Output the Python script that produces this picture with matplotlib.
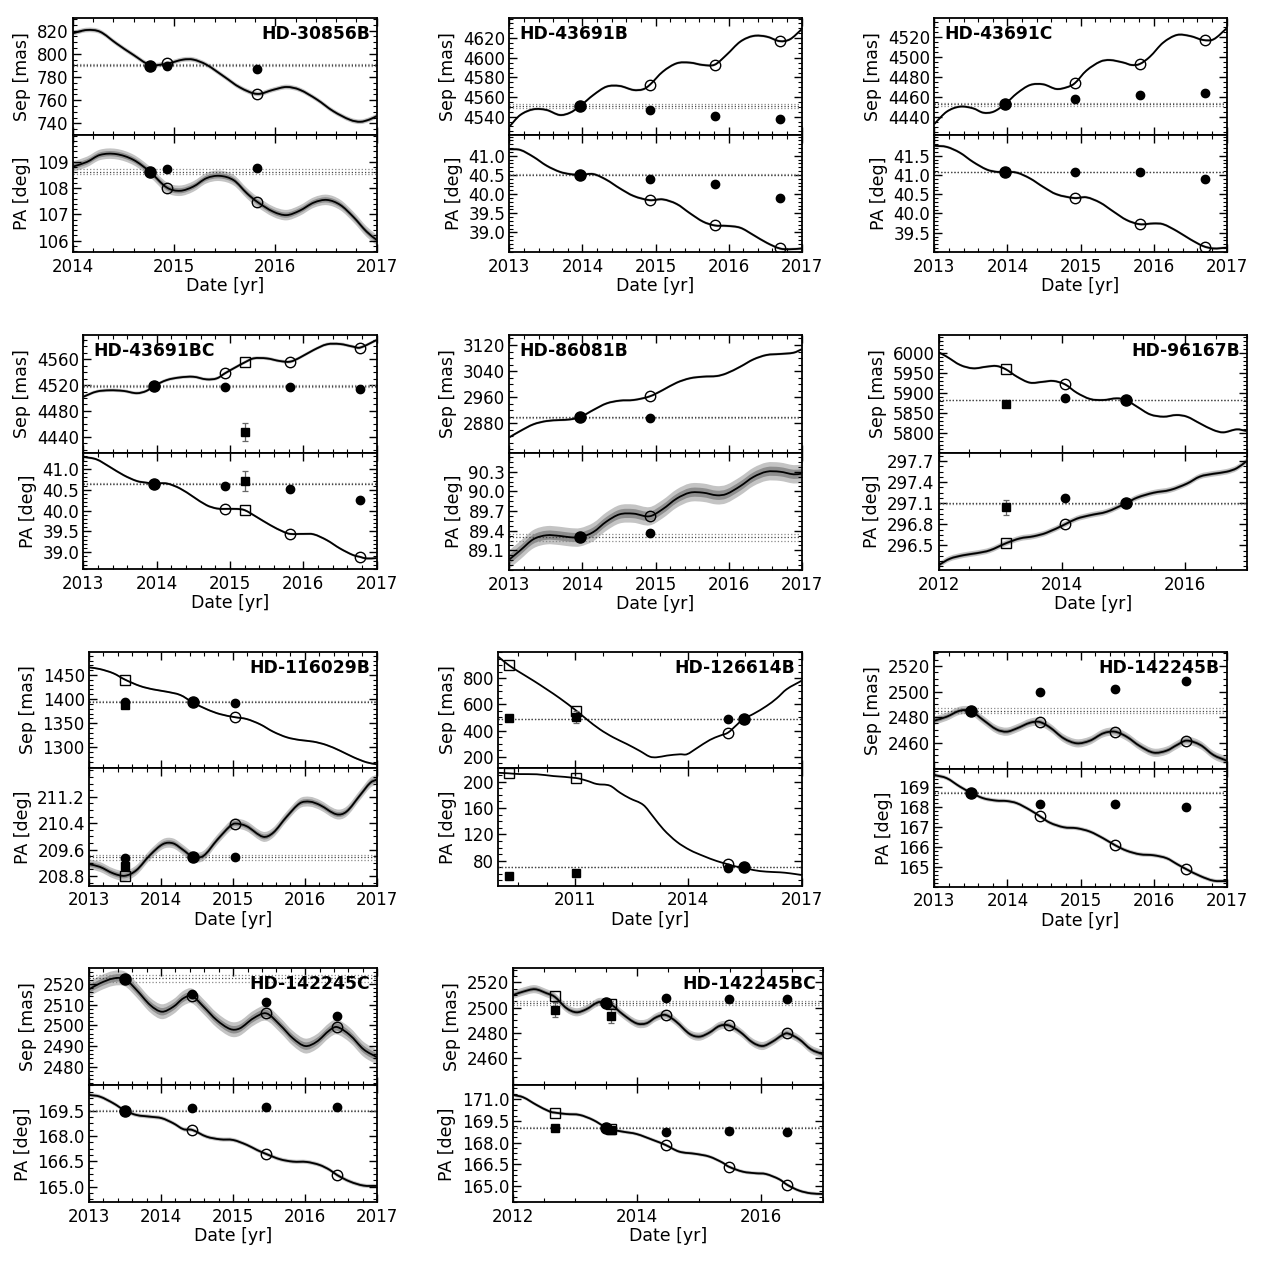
import matplotlib
matplotlib.use("Agg")
import matplotlib.pyplot as plt
from matplotlib.ticker import AutoMinorLocator, FixedLocator, FormatStrFormatter
from matplotlib.path import Path
from matplotlib.patches import PathPatch
import numpy as np

# ---------------- data ----------------
names = ["HD-30856B", "HD-43691B", "HD-43691C", "HD-43691BC", "HD-86081B", "HD-96167B",
         "HD-116029B", "HD-126614B", "HD-142245B", "HD-142245C", "HD-142245BC"]

# HD-30856B
p1_ts = [2014.0, 2014.14, 2014.27, 2014.43, 2014.6, 2014.76, 2014.93, 2015.09, 2015.19, 2015.32, 2015.49,
         2015.65, 2015.82, 2015.98, 2016.11, 2016.24, 2016.41, 2016.57, 2016.74, 2016.84, 2016.93, 2017.0]
p1_sep = [817.7, 820.5, 819, 809, 799, 790.6, 791.5, 795, 795, 790.6, 780.6,
          771, 765.4, 769, 771.4, 769, 760.6, 750.6, 743, 741.4, 743.4, 746.3]
p1_tp = [2014.0, 2014.14, 2014.27, 2014.43, 2014.6, 2014.76, 2014.93, 2015.06, 2015.19, 2015.32, 2015.45, 2015.59,
         2015.72, 2015.82, 2015.98, 2016.11, 2016.24, 2016.38, 2016.51, 2016.64, 2016.77, 2016.9, 2017.0]
p1_pa = [108.82, 109.0, 109.27, 109.3, 109.08, 108.63, 108.02, 107.9, 108.06, 108.38, 108.47, 108.3,
         107.8, 107.48, 107.1, 106.97, 107.14, 107.45, 107.55, 107.36, 106.9, 106.34, 106.02]
p1_ref = [2014.76, 789.5, 108.6]
p1_meas_t = [2014.93, 2015.82]
p1_meas_sep = [789.1, 786.6]
p1_meas_pa = [108.73, 108.76]
p1_pred_t = [2014.93, 2015.82]
p1_pred_sep = [792.3, 765.4]
p1_pred_pa = [108.02, 107.48]

# HD-43691B
p2_ts = [2013.0, 2013.15, 2013.33, 2013.51, 2013.69, 2013.83, 2013.97, 2014.15, 2014.33, 2014.51, 2014.7, 2014.83,
         2014.92, 2015.1, 2015.29, 2015.47, 2015.65, 2015.81, 2015.97, 2016.16, 2016.34, 2016.52, 2016.7, 2016.84, 2017.0]
p2_sep = [4529.8, 4541.7, 4547.5, 4546.8, 4541.7, 4544, 4550.9, 4562.1, 4570.6, 4571.3, 4567.2, 4567.9,
          4572.3, 4585.9, 4594.4, 4595.1, 4592.7, 4593.0, 4602.9, 4616.5, 4622.3, 4621.6, 4617.0, 4618.9, 4629.1]
p2_tp = [2013.0, 2013.15, 2013.33, 2013.51, 2013.69, 2013.83, 2013.97, 2014.15, 2014.33, 2014.51, 2014.7, 2014.92,
         2015.1, 2015.29, 2015.47, 2015.65, 2015.81, 2015.97, 2016.16, 2016.34, 2016.52, 2016.7, 2016.84, 2017.0]
p2_pa = [41.17, 41.15, 40.97, 40.74, 40.58, 40.52, 40.5, 40.52, 40.37, 40.15, 39.95, 39.84,
         39.86, 39.74, 39.5, 39.28, 39.18, 39.17, 39.12, 38.93, 38.73, 38.58, 38.56, 38.58]
p2_ref = [2013.97, 4550.5, 40.5]
p2_meas_t = [2014.92, 2015.81, 2016.7]
p2_meas_sep = [4546.8, 4540.7, 4537.3]
p2_meas_pa = [40.39, 40.26, 39.9]
p2_pred_t = [2014.92, 2015.81, 2016.7]
p2_pred_sep = [4572.3, 4593.0, 4617.0]
p2_pred_pa = [39.84, 39.18, 38.58]

# HD-43691C
p3_ts = [2013.0, 2013.17, 2013.35, 2013.53, 2013.67, 2013.81, 2013.97, 2014.13, 2014.31, 2014.49, 2014.67, 2014.81,
         2014.92, 2015.08, 2015.27, 2015.4, 2015.59, 2015.7, 2015.81, 2015.95, 2016.13, 2016.32, 2016.5, 2016.68,
         2016.82, 2017.0]
p3_sep = [4432.6, 4445, 4450.1, 4448.4, 4444, 4445, 4452.8, 4463.5, 4471.9, 4472.6, 4467.9, 4469.6,
          4473.6, 4486.4, 4495.5, 4497.1, 4494.5, 4492.1, 4493.1, 4500.5, 4514.6, 4522.4, 4521.3, 4517.3,
          4518, 4529.1]
p3_tp = [2013.0, 2013.17, 2013.35, 2013.53, 2013.72, 2013.86, 2013.97, 2014.13, 2014.31, 2014.49, 2014.67, 2014.92,
         2015.08, 2015.27, 2015.45, 2015.63, 2015.81, 2016.0, 2016.13, 2016.32, 2016.5, 2016.68, 2016.82, 2017.0]
p3_pa = [41.76, 41.73, 41.58, 41.34, 41.14, 41.08, 41.08, 41.06, 40.91, 40.69, 40.5, 40.4,
         40.42, 40.28, 40.05, 39.83, 39.72, 39.74, 39.72, 39.54, 39.33, 39.15, 39.09, 39.11]
p3_ref = [2013.97, 4452.8, 41.07]
p3_meas_t = [2014.92, 2015.81, 2016.7]
p3_meas_sep = [4457.5, 4462.2, 4463.5]
p3_meas_pa = [41.07, 41.08, 40.89]
p3_pred_t = [2014.92, 2015.81, 2016.7]
p3_pred_sep = [4473.6, 4493.1, 4517.3]
p3_pred_pa = [40.4, 39.72, 39.14]

# HD-43691BC
p4_ts = [2013.0, 2013.18, 2013.36, 2013.55, 2013.73, 2013.86, 2013.96, 2014.14, 2014.32, 2014.5, 2014.68, 2014.82,
         2014.93, 2015.09, 2015.2, 2015.32, 2015.5, 2015.68, 2015.82, 2015.95, 2016.14, 2016.32, 2016.5, 2016.68,
         2016.77, 2017.0]
p4_sep = [4502, 4510, 4512, 4511, 4507.5, 4511, 4518.6, 4528, 4532, 4533, 4529, 4530.5,
          4538.3, 4548.6, 4555.3, 4561.5, 4561.5, 4557.4, 4556.4, 4562.6, 4574.5, 4583.3, 4583.8, 4579.7,
          4578.1, 4590]
p4_tp = [2013.0, 2013.18, 2013.36, 2013.55, 2013.73, 2013.86, 2013.96, 2014.14, 2014.32, 2014.5, 2014.68, 2014.82,
         2014.93, 2015.09, 2015.2, 2015.36, 2015.55, 2015.73, 2015.82, 2016.0, 2016.14, 2016.32, 2016.5, 2016.68,
         2016.77, 2016.86, 2017.0]
p4_pa = [41.29, 41.23, 41.05, 40.85, 40.71, 40.67, 40.65, 40.65, 40.53, 40.33, 40.13, 40.05,
         40.04, 40.04, 40.01, 39.85, 39.65, 39.49, 39.44, 39.44, 39.43, 39.29, 39.09, 38.93,
         38.89, 38.85, 38.86]
p4_ref = [2013.96, 4518.6, 40.65]
p4_meas_t = [2014.93, 2015.82, 2016.77]
p4_meas_sep = [4517.6, 4516.5, 4514.5]
p4_meas_pa = [40.6, 40.52, 40.25]
p4_pred_t = [2014.93, 2015.82, 2016.77]
p4_pred_sep = [4538.3, 4556.4, 4578.1]
p4_pred_pa = [40.04, 39.44, 38.89]
p4_arch_t = [2015.2]
p4_arch_sep = [4447.7]
p4_arch_sep_err = [14]
p4_arch_pa = [40.71]
p4_arch_pa_err = [0.23]
p4_archp_sep = [4555.3]
p4_archp_pa = [40.01]

# HD-86081B
p5_t = [2013.0, 2013.15, 2013.33, 2013.51, 2013.69, 2013.83, 2013.97, 2014.15, 2014.33, 2014.51, 2014.7, 2014.92,
        2015.1, 2015.29, 2015.47, 2015.65, 2015.84, 2015.97, 2016.16, 2016.34, 2016.52, 2016.7, 2016.89, 2017.0]
p5_sep = [2837, 2856.5, 2877, 2887, 2890, 2892, 2899, 2921, 2941, 2949.5, 2951.5, 2962.5,
          2982, 3004.6, 3018, 3023, 3025, 3033, 3053.6, 3076, 3089.4, 3092.5, 3096.5, 3106.8]
p5_pa = [88.96, 89.1, 89.27, 89.33, 89.32, 89.3, 89.3, 89.38, 89.54, 89.65, 89.66, 89.62,
         89.73, 89.89, 89.98, 89.98, 89.94, 89.96, 90.08, 90.22, 90.3, 90.3, 90.26, 90.27]
p5_ref = [2013.97, 2898.5, 89.3]
p5_meas_t = [2014.92]
p5_meas_sep = [2895.3]
p5_meas_pa = [89.36]
p5_pred_t = [2014.92]
p5_pred_sep = [2962.5]
p5_pred_pa = [89.62]

# HD-96167B
p6_ts = [2012.0, 2012.13, 2012.35, 2012.56, 2012.78, 2012.94, 2013.09, 2013.27, 2013.48, 2013.7, 2013.86, 2014.05,
         2014.24, 2014.46, 2014.67, 2014.89, 2015.04, 2015.22, 2015.43, 2015.65, 2015.86, 2016.03, 2016.24, 2016.46,
         2016.62, 2016.84, 2017.0]
p6_sep = [6002.5, 5991.7, 5970.8, 5962.5, 5966.7, 5968.3, 5960, 5941.7, 5926.7, 5929, 5931, 5922.5,
          5901.7, 5885.8, 5883.3, 5887.5, 5883.3, 5866.7, 5847.5, 5841.7, 5845.8, 5841.7, 5825, 5808.3,
          5802.5, 5810, 5805.8]
p6_tp = [2012.0, 2012.18, 2012.4, 2012.62, 2012.83, 2013.09, 2013.32, 2013.54, 2013.75, 2014.05, 2014.24, 2014.46,
         2014.73, 2015.04, 2015.22, 2015.49, 2015.76, 2016.03, 2016.24, 2016.46, 2016.68, 2016.84, 2017.0]
p6_pa = [296.22, 296.31, 296.36, 296.39, 296.43, 296.53, 296.6, 296.63, 296.68, 296.8, 296.88, 296.93,
         296.98, 297.1, 297.18, 297.25, 297.29, 297.38, 297.48, 297.52, 297.55, 297.6, 297.7]
p6_ref = [2015.04, 5883.3, 297.1]
p6_meas_t = [2014.05]
p6_meas_sep = [5889]
p6_meas_pa = [297.17]
p6_pred_t = [2014.05]
p6_pred_sep = [5922.5]
p6_pred_pa = [296.8]
p6_arch_t = [2013.09]
p6_arch_sep = [5872.5]
p6_arch_sep_err = [3]
p6_arch_pa = [297.04]
p6_arch_pa_err = [0.11]
p6_archp_sep = [5960]
p6_archp_pa = [296.53]

# HD-116029B
p7_ts = [2013.0, 2013.15, 2013.34, 2013.5, 2013.71, 2013.89, 2014.08, 2014.27, 2014.44, 2014.64, 2014.82, 2015.03,
         2015.19, 2015.38, 2015.56, 2015.75, 2015.93, 2016.12, 2016.3, 2016.49, 2016.68, 2016.86, 2017.0]
p7_sep = [1465.9, 1462.4, 1453.5, 1440.5, 1427.2, 1420.3, 1415.4, 1408.5, 1393.5, 1378.8, 1369, 1362.5,
          1358.8, 1347.7, 1332.5, 1320.8, 1315.2, 1311.8, 1304.9, 1293, 1279.3, 1268.9, 1264.8]
p7_tp = [2013.0, 2013.15, 2013.34, 2013.5, 2013.66, 2013.85, 2014.03, 2014.17, 2014.31, 2014.44, 2014.59, 2014.78,
         2014.96, 2015.03, 2015.19, 2015.42, 2015.56, 2015.75, 2015.93, 2016.07, 2016.21, 2016.44, 2016.58, 2016.77,
         2016.91, 2017.0]
p7_pa = [209.16, 209.08, 208.88, 208.81, 208.98, 209.44, 209.77, 209.79, 209.59, 209.39, 209.41, 209.89,
         210.31, 210.39, 210.31, 209.99, 210.11, 210.6, 211.0, 211.05, 210.95, 210.67, 210.75, 211.25,
         211.62, 211.72]
p7_ref = [2014.44, 1393.3, 209.39]
p7_meas_t = [2013.5, 2015.03]
p7_meas_sep = [1393.3, 1392.6]
p7_meas_pa = [209.34, 209.37]
p7_pred_t = [2015.03]
p7_pred_sep = [1362.5]
p7_pred_pa = [210.39]
p7_arch_t = [2013.5]
p7_arch_sep = [1387.8]
p7_arch_sep_err = [0]
p7_arch_pa = [209.1]
p7_arch_pa_err = [0]
p7_archp_sep = [1440.0]
p7_archp_pa = [208.8]

# HD-126614B
p8_ts = [2008.97, 2009.24, 2009.54, 2009.9, 2010.25, 2010.6, 2011.03, 2011.31, 2011.66, 2012.01, 2012.37, 2012.72,
         2012.98, 2013.16, 2013.43, 2013.78, 2013.96, 2014.22, 2014.57, 2014.84, 2015.05, 2015.28, 2015.46, 2015.72,
         2016.07, 2016.34, 2016.6, 2017.0]
p8_sep = [966, 902, 846, 782, 716, 647, 553, 486, 409, 348, 297, 243,
          200, 195, 208, 218, 218, 264, 328, 361, 384, 443, 489, 527,
          588, 647, 716, 782]
p8_tp = [2008.97, 2009.24, 2009.54, 2009.99, 2010.43, 2011.03, 2011.31, 2011.57, 2011.92, 2012.19, 2012.45, 2012.81,
         2013.07, 2013.34, 2013.69, 2014.04, 2014.4, 2014.75, 2015.05, 2015.28, 2015.46, 2015.72, 2016.07, 2016.43,
         2016.69, 2017.0]
p8_pa = [213.5, 212.7, 211.5, 211.2, 208.5, 205.5, 201.5, 196.5, 194, 183.3, 174.7, 164.6,
         146.8, 127.6, 108.9, 96.2, 87.1, 79.5, 74.5, 70.9, 69.9, 65.8, 63.3, 62.3,
         60.8, 58.2]
p8_ref = [2015.46, 489, 69.9]
p8_meas_t = [2015.05]
p8_meas_sep = [489]
p8_meas_pa = [68.9]
p8_pred_t = [2015.05]
p8_pred_sep = [384]
p8_pred_pa = [75]
p8_arch_t = [2009.24, 2011.03]
p8_arch_sep = [494, 506]
p8_arch_sep_err = [0, 45]
p8_arch_pa = [56.7, 61.8]
p8_arch_pa_err = [0, 0]
p8_archp_sep = [902, 553]
p8_archp_pa = [212.7, 205.5]

# HD-142245B
p9_t = [2013.0, 2013.17, 2013.35, 2013.5, 2013.67, 2013.85, 2013.99, 2014.13, 2014.31, 2014.44, 2014.58, 2014.77,
        2014.95, 2015.13, 2015.31, 2015.47, 2015.63, 2015.81, 2016.0, 2016.18, 2016.32, 2016.45, 2016.64, 2016.82,
        2017.0]
p9_sep = [2477.2, 2480.3, 2485, 2484.8, 2477.7, 2470.4, 2468.6, 2471.2, 2475.6, 2476.2, 2472, 2463.4,
          2459.5, 2461.6, 2467.3, 2468.6, 2464.7, 2457.4, 2452.2, 2453.8, 2458.2, 2461.6, 2458.2, 2450.3,
          2445.9]
p9_pa = [169.58, 169.42, 169.0, 168.7, 168.42, 168.3, 168.28, 168.17, 167.83, 167.53, 167.2, 166.97,
         166.92, 166.75, 166.42, 166.08, 165.8, 165.62, 165.57, 165.42, 165.13, 164.87, 164.53, 164.3,
         164.28]
p9_ref = [2013.5, 2484.8, 168.7]
p9_meas_t = [2014.44, 2015.47, 2016.45]
p9_meas_sep = [2499.9, 2501.7, 2508.3]
p9_meas_pa = [168.12, 168.13, 167.97]
p9_pred_t = [2014.44, 2015.47, 2016.45]
p9_pred_sep = [2476.2, 2468.6, 2461.6]
p9_pred_pa = [167.53, 166.08, 164.87]

# HD-142245C
p10_ts = [2013.0, 2013.15, 2013.34, 2013.5, 2013.66, 2013.85, 2014.01, 2014.17, 2014.31, 2014.43, 2014.59, 2014.77,
          2014.96, 2015.09, 2015.28, 2015.46, 2015.65, 2015.83, 2016.0, 2016.16, 2016.34, 2016.44, 2016.62, 2016.81,
          2017.0]
p10_sep = [2517.4, 2520.3, 2522.7, 2522.4, 2517.1, 2509.8, 2506.6, 2509, 2513.1, 2514.2, 2509, 2502.6,
           2498.2, 2498.5, 2503.4, 2505.8, 2500.2, 2493.7, 2490, 2492.1, 2497.7, 2499.2, 2495.3, 2488.4,
           2484.5]
p10_tp = [2013.0, 2013.15, 2013.34, 2013.5, 2013.66, 2013.85, 2014.01, 2014.17, 2014.31, 2014.43, 2014.63, 2014.82,
          2015.0, 2015.19, 2015.33, 2015.46, 2015.65, 2015.83, 2016.02, 2016.2, 2016.34, 2016.44, 2016.62, 2016.81,
          2017.0]
p10_pa = [170.43, 170.33, 169.93, 169.5, 169.24, 169.14, 169.05, 168.75, 168.4, 168.36, 167.96, 167.8,
          167.76, 167.47, 167.17, 166.93, 166.62, 166.48, 166.46, 166.28, 165.99, 165.69, 165.3, 165.06,
          165.04]
p10_ref = [2013.5, 2522.4, 169.5]
p10_meas_t = [2014.43, 2015.46, 2016.44]
p10_meas_sep = [2515, 2511.5, 2504.5]
p10_meas_pa = [169.68, 169.7, 169.74]
p10_pred_t = [2014.43, 2015.46, 2016.44]
p10_pred_sep = [2514.2, 2505.8, 2499.2]
p10_pred_pa = [168.36, 166.93, 165.69]

# HD-142245BC
p11_ts = [2012.0, 2012.16, 2012.35, 2012.54, 2012.67, 2012.86, 2013.02, 2013.18, 2013.37, 2013.5, 2013.58, 2013.77,
          2013.99, 2014.15, 2014.31, 2014.46, 2014.63, 2014.85, 2015.01, 2015.17, 2015.33, 2015.48, 2015.66, 2015.87,
          2016.03, 2016.19, 2016.35, 2016.43, 2016.62, 2016.81, 2017.0]
p11_sep = [2510, 2512.6, 2514.5, 2511.3, 2508.5, 2499.5, 2496.3, 2498.7, 2504.2, 2504, 2502.6, 2494.7,
           2487.6, 2487.6, 2492.4, 2494.2, 2489, 2479.2, 2477.1, 2480.3, 2485.5, 2486, 2481, 2472.4,
           2469.7, 2473.2, 2478.4, 2479.7, 2475, 2467.1, 2463.2]
p11_tp = [2012.0, 2012.16, 2012.38, 2012.59, 2012.67, 2012.86, 2013.07, 2013.29, 2013.5, 2013.58, 2013.77, 2013.99,
          2014.26, 2014.46, 2014.68, 2014.95, 2015.17, 2015.38, 2015.48, 2015.71, 2015.92, 2016.08, 2016.3, 2016.43,
          2016.62, 2016.81, 2017.0]
p11_pa = [171.3, 171.14, 170.6, 170.15, 170.08, 169.98, 169.92, 169.57, 169.04, 168.92, 168.76, 168.6,
          168.18, 167.84, 167.38, 167.22, 167.03, 166.62, 166.34, 165.99, 165.88, 165.83, 165.46, 165.07,
          164.68, 164.49, 164.45]
p11_ref = [2013.5, 2504.0, 169.04]
p11_meas_t = [2014.46, 2015.48, 2016.43]
p11_meas_sep = [2507.4, 2506.8, 2506.8]
p11_meas_pa = [168.76, 168.8, 168.74]
p11_pred_t = [2014.46, 2015.48, 2016.43]
p11_pred_sep = [2494.2, 2486, 2479.7]
p11_pred_pa = [167.84, 166.34, 165.07]
p11_arch_t = [2012.67, 2013.58]
p11_arch_sep = [2498.2, 2493.7]
p11_arch_sep_err = [6, 6]
p11_arch_pa = [169.04, 168.88]
p11_arch_pa_err = [0, 0]
p11_archp_sep = [2509.2, 2502.6]
p11_archp_pa = [170.08, 168.92]

# reference-epoch levels (centre, uncertainty) for sep and PA
ref_sep_level = [(790.1, 1.0), (4550.9, 1.7), (4452.4, 1.7), (4519.0, 1.5), (2898.0, 1.0), (5883.3, 1.0),
                 (1394.7, 0.5), (489.0, 0.5), (2485.0, 2.0), (2522.7, 1.6), (2503.4, 1.6)]
ref_pa_level = [(108.63, 0.1), (40.5, 0.01), (41.08, 0.01), (40.65, 0.01), (89.3, 0.05), (297.1, 0.005),
                (209.37, 0.07), (70.9, 0.2), (168.7, 0.02), (169.5, 0.02), (169.04, 0.02)]
# model uncertainty (1 sigma) of the background track, sep and PA
sig_sep = [1.0, 0.7, 0.65, 1.3, 2.0, 1.6, 1.0, 0.0, 1.6, 1.8, 1.6]
sig_pa = [0.1, 0.018, 0.018, 0.015, 0.07, 0.02, 0.075, 0.0, 0.05, 0.06, 0.06]

# axis ranges and tick values
xlims = [(2014, 2017), (2013, 2017), (2013, 2017), (2013, 2017), (2013, 2017), (2012, 2017.01),
         (2013, 2017), (2008.97, 2017), (2013, 2017), (2013, 2017), (2012, 2017)]
xticks = [[2014, 2015, 2016, 2017], [2013, 2014, 2015, 2016, 2017], [2013, 2014, 2015, 2016, 2017],
          [2013, 2014, 2015, 2016, 2017], [2013, 2014, 2015, 2016, 2017], [2012, 2014, 2016],
          [2013, 2014, 2015, 2016, 2017], [2011, 2014, 2017], [2013, 2014, 2015, 2016, 2017],
          [2013, 2014, 2015, 2016, 2017], [2012, 2014, 2016]]
sep_lims = [(730, 830.6), (4521.3, 4640.3), (4421.5, 4539.2), (4415.2, 4597.8), (2790, 3150.7), (5751.7, 6045.8),
            (1256.5, 1498.4), (110.6, 1004), (2439.4, 2530.7), (2471, 2527.6), (2438.7, 2531)]
sep_ticks = [[740, 760, 780, 800, 820], [4540, 4560, 4580, 4600, 4620], [4440, 4460, 4480, 4500, 4520],
             [4440, 4480, 4520, 4560], [2880, 2960, 3040, 3120], [5800, 5850, 5900, 5950, 6000],
             [1300, 1350, 1400, 1450], [200, 400, 600, 800], [2460, 2480, 2500, 2520],
             [2480, 2490, 2500, 2510, 2520], [2460, 2480, 2500, 2520]]
pa_lims = [(105.55, 110.03), (38.48, 41.54), (38.99, 42.04), (38.59, 41.39), (88.8, 90.59), (296.15, 297.82),
           (208.51, 212.06), (42, 220.3), (164.0, 169.88), (164.07, 171.0), (163.87, 171.97)]
pa_ticks = [[106, 107, 108, 109], [39.0, 39.5, 40.0, 40.5, 41.0], [39.5, 40.0, 40.5, 41.0, 41.5],
            [39.0, 39.5, 40.0, 40.5, 41.0], [89.1, 89.4, 89.7, 90.0, 90.3], [296.5, 296.8, 297.1, 297.4, 297.7],
            [208.8, 209.6, 210.4, 211.2], [80, 120, 160, 200], [165, 166, 167, 168, 169],
            [165.0, 166.5, 168.0, 169.5], [165.0, 166.5, 168.0, 169.5, 171.0]]
pa_fmt = ["%d", "%.1f", "%.1f", "%.1f", "%.1f", "%.1f", "%.1f", "%d", "%d", "%.1f", "%.1f"]
title_right = [True, False, False, False, False, True, True, True, True, True, True]

# ---------------- assemble panel records ----------------
panels = []
g = globals()
for i in range(11):
    k = "p%d_" % (i + 1)
    ts = g.get(k + "ts", g.get(k + "t"))
    tp = g.get(k + "tp", g.get(k + "t"))
    panels.append(dict(
        ts=ts, sep=g[k + "sep"], tp=tp, pa=g[k + "pa"], ref=g[k + "ref"],
        meas_t=g[k + "meas_t"], meas_sep=g[k + "meas_sep"], meas_pa=g[k + "meas_pa"],
        pred_t=g[k + "pred_t"], pred_sep=g[k + "pred_sep"], pred_pa=g[k + "pred_pa"],
        arch_t=g.get(k + "arch_t", []), arch_sep=g.get(k + "arch_sep", []),
        arch_sep_err=g.get(k + "arch_sep_err", []), arch_pa=g.get(k + "arch_pa", []),
        arch_pa_err=g.get(k + "arch_pa_err", []), archp_sep=g.get(k + "archp_sep", []),
        archp_pa=g.get(k + "archp_pa", [])))

# ---------------- style ----------------
plt.rcParams.update({
    "font.family": "DejaVu Sans",
    "font.size": 12,
    "axes.linewidth": 1.3,
    "xtick.direction": "in", "ytick.direction": "in",
    "xtick.top": True, "ytick.right": True,
    "xtick.major.size": 6, "ytick.major.size": 6,
    "xtick.minor.size": 3, "ytick.minor.size": 3,
    "xtick.major.width": 1.0, "ytick.major.width": 1.0,
    "xtick.minor.width": 0.8, "ytick.minor.width": 0.8,
    "xtick.major.pad": 4, "ytick.major.pad": 3,
    "xtick.labelsize": 12, "ytick.labelsize": 12,
    "axes.labelsize": 12.5,
})

W, H = 1267, 1263
fig = plt.figure(figsize=(W / 100, H / 100), dpi=100)

# pixel boxes: left, right, top, middle, bottom
boxes = [(72.7, 376.7, 18.3, 135, 252.3), (509.3, 801.7, 18.3, 135, 252.3), (934.3, 1226.7, 18.3, 135, 252.3),
         (83.3, 376.7, 335, 452.7, 569.3), (509.3, 801.7, 335, 452.7, 570), (938.7, 1247.3, 335, 452.7, 570),
         (89, 376.7, 651.7, 768.3, 885.7), (498.3, 801.7, 651.7, 768.3, 885.7), (934.3, 1226.7, 652.3, 769, 886.7),
         (89, 377.3, 968.3, 1085.3, 1202.3), (513.3, 822.7, 968.3, 1085.3, 1202.3)]

C_OUT = "#c4c4c4"
C_IN = "#8e8e8e"


def smooth_vertices(t, y):
    """Cubic Bezier control points of a smooth (Hermite) curve through the read points."""
    t = np.asarray(t, float)
    y = np.asarray(y, float)
    n = len(t)
    m = np.empty(n)
    m[0] = (y[1] - y[0]) / (t[1] - t[0])
    m[-1] = (y[-1] - y[-2]) / (t[-1] - t[-2])
    m[1:-1] = (y[2:] - y[:-2]) / (t[2:] - t[:-2])
    verts = [(t[0], y[0])]
    for i in range(n - 1):
        h = t[i + 1] - t[i]
        verts.append((t[i] + h / 3, y[i] + m[i] * h / 3))
        verts.append((t[i + 1] - h / 3, y[i + 1] - m[i + 1] * h / 3))
        verts.append((t[i + 1], y[i + 1]))
    return np.array(verts)


def curve_path(verts):
    codes = [Path.MOVETO] + [Path.CURVE4] * (len(verts) - 1)
    return Path(verts, codes)


def band_path(verts, s):
    up = verts + np.array([0, s])
    lo = verts[::-1] - np.array([0, s])
    v = np.vstack([up, lo, up[:1]])
    codes = ([Path.MOVETO] + [Path.CURVE4] * (len(up) - 1) + [Path.LINETO] +
             [Path.CURVE4] * (len(lo) - 1) + [Path.CLOSEPOLY])
    return Path(v, codes)


def draw(ax, t, y, sig, ref_t, ref_y, level, meas_t, meas_y, pred_t, pred_y,
         arch_t, arch_y, arch_e, archp_y):
    verts = smooth_vertices(t, y)
    if sig > 0:
        ax.add_patch(PathPatch(band_path(verts, 2 * sig), facecolor=C_OUT, edgecolor="none", zorder=1))
        ax.add_patch(PathPatch(band_path(verts, sig), facecolor=C_IN, edgecolor="none", zorder=1.5))
    ax.add_patch(PathPatch(curve_path(verts), facecolor="none", edgecolor="k", lw=1.3, zorder=2))
    c, e = level
    ax.axhline(c - e, color="#8a8a8a", ls=":", lw=0.9, zorder=1.8)
    ax.axhline(c + e, color="#8a8a8a", ls=":", lw=0.9, zorder=1.8)
    ax.axhline(c, color="#444444", ls=":", lw=0.9, zorder=1.9)
    if len(arch_t):
        err = np.asarray(arch_e, float)
        ax.errorbar(arch_t, arch_y, yerr=np.where(err > 0, err, np.nan), fmt="none",
                    ecolor="#666666", elinewidth=0.9, capsize=2, capthick=0.9, zorder=3)
        ax.plot(arch_t, arch_y, "s", color="k", ms=6, zorder=4)
        ax.plot(arch_t, archp_y, "s", mfc="none", mec="k", mew=1.0, ms=7, zorder=4)
    ax.plot(pred_t, pred_y, "o", mfc="none", mec="k", mew=1.0, ms=7.5, zorder=4)
    ax.plot(meas_t, meas_y, "o", color="k", ms=6, zorder=4)
    ax.plot([ref_t], [ref_y], "o", color="k", ms=8, zorder=5)


for i, p in enumerate(panels):
    l, r, top, mid, bot = boxes[i]
    ax1 = fig.add_axes([l / W, 1 - mid / H, (r - l) / W, (mid - top) / H])
    ax2 = fig.add_axes([l / W, 1 - bot / H, (r - l) / W, (bot - mid) / H], sharex=ax1)

    draw(ax1, p["ts"], p["sep"], sig_sep[i], p["ref"][0], p["ref"][1], ref_sep_level[i],
         p["meas_t"], p["meas_sep"], p["pred_t"], p["pred_sep"],
         p["arch_t"], p["arch_sep"], p["arch_sep_err"], p["archp_sep"])
    draw(ax2, p["tp"], p["pa"], sig_pa[i], p["ref"][0], p["ref"][2], ref_pa_level[i],
         p["meas_t"], p["meas_pa"], p["pred_t"], p["pred_pa"],
         p["arch_t"], p["arch_pa"], p["arch_pa_err"], p["archp_pa"])

    ax1.set_xlim(*xlims[i])
    ax1.xaxis.set_major_locator(FixedLocator(xticks[i]))
    ax1.xaxis.set_minor_locator(AutoMinorLocator())
    ax1.set_ylim(*sep_lims[i])
    ax1.yaxis.set_major_locator(FixedLocator(sep_ticks[i]))
    ax1.yaxis.set_minor_locator(AutoMinorLocator())
    ax1.yaxis.set_major_formatter(FormatStrFormatter("%d"))
    ax2.set_ylim(*pa_lims[i])
    ax2.yaxis.set_major_locator(FixedLocator(pa_ticks[i]))
    ax2.yaxis.set_minor_locator(AutoMinorLocator())
    ax2.yaxis.set_major_formatter(FormatStrFormatter(pa_fmt[i]))
    ax2.xaxis.set_major_formatter(FormatStrFormatter("%d"))
    plt.setp(ax1.get_xticklabels(), visible=False)
    for ax in (ax1, ax2):
        ax.tick_params(which="both", top=True, right=True)
    ax1.set_ylabel("Sep [mas]")
    ax2.set_ylabel("PA [deg]")
    ax2.set_xlabel("Date [yr]", labelpad=1)

    if title_right[i]:
        ax1.annotate(names[i], xy=(1, 1), xycoords="axes fraction", xytext=(-5, -5),
                     textcoords="offset points", ha="right", va="top", fontweight="bold",
                     fontsize=12.3, zorder=6)
    else:
        ax1.annotate(names[i], xy=(0, 1), xycoords="axes fraction", xytext=(7, -5),
                     textcoords="offset points", ha="left", va="top", fontweight="bold",
                     fontsize=12.3, zorder=6)

fig.savefig("out.png", dpi=100)
